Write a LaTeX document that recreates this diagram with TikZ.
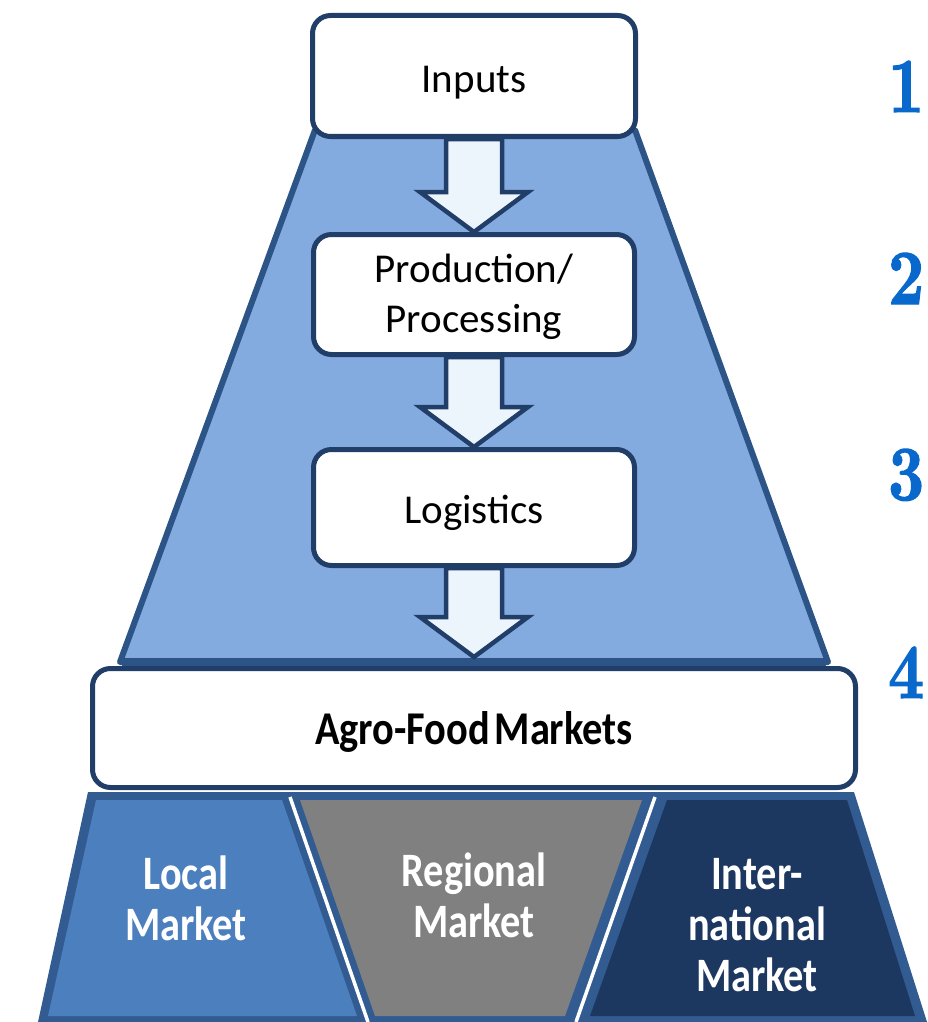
\documentclass[tikz,border=0pt]{standalone}
\usepackage{fontspec}
\setmainfont{Carlito}
\newfontfamily\labelfont[FakeStretch=0.84]{Carlito}
\newfontfamily\barfont[FakeStretch=0.86]{Carlito}
\newfontfamily\numfont[FakeStretch=0.8,FakeBold=1.6]{lmroman10-bold.otf}
\usetikzlibrary{calc}

\definecolor{boxline}{RGB}{33,62,104}
\definecolor{funnelline}{RGB}{44,84,134}
\definecolor{funnelfill}{RGB}{132,171,223}
\definecolor{arrowfill}{RGB}{236,244,252}
\definecolor{bandcol}{RGB}{50,92,145}
\definecolor{localcol}{RGB}{76,127,190}
\definecolor{regionalcol}{RGB}{128,128,128}
\definecolor{intlcol}{RGB}{29,56,96}
\definecolor{numcol}{RGB}{8,104,204}

\pgfdeclarelayer{back}
\pgfsetlayers{back,main}

\newcommand\flowarrow[2]{%
  \draw[flowarrow] ($(#1)+(-28,0)$) -- ($(#2)+(-28,-40)$) -- ($(#2)+(-54,-40)$)
    -- (#2) -- ($(#2)+(54,-40)$) -- ($(#2)+(28,-40)$) -- ($(#1)+(28,0)$) -- cycle;}
% lower a text inside its node without changing the node's size
\newcommand\lowered[2]{\raisebox{-#1}[\height][\depth]{#2}}

\tikzset{
  stagebox/.style={draw=boxline, line width=5pt, fill=white, rounded corners=18pt,
    inner sep=0pt, align=center, font=\fontsize{41}{50}\selectfont},
  flowarrow/.style={draw=boxline, line width=4.5pt, fill=arrowfill, line join=miter},
  funnel/.style={draw=funnelline, line width=6pt, fill=funnelfill, line join=round},
  marketlabel/.style={text=white, align=center, inner sep=0pt,
    font=\labelfont\bfseries\fontsize{48}{51}\selectfont},
  stepnum/.style={text=numcol, anchor=base west, inner sep=0pt,
    font=\numfont\fontsize{78}{78}\selectfont},
}

\begin{document}
\begin{tikzpicture}[x=1pt,y=-1pt]
\useasboundingbox (0,0) rectangle (927,1022);
\clip (0,0) rectangle (927,1022);

% chain of stages
\node[stagebox, minimum width=323pt, minimum height=121pt] (inputs) at (474,76) {\lowered{7pt}{Inputs}};
\node[stagebox, minimum width=321pt, minimum height=120pt] (prod) at (474,294.5) {\lowered{2pt}{Production/}\\\lowered{2pt}{Processing}};
\node[stagebox, minimum width=321pt, minimum height=116pt] (logi) at (474,507.5) {\lowered{5pt}{Logistics}};
\node[stagebox, minimum width=763pt, minimum height=119pt,
      font=\barfont\bfseries\fontsize{47}{50}\selectfont] (markets) at (474,728)
      {\lowered{4pt}{Agro-Food\hspace{0.1em}Markets}};
\coordinate (a3) at (474,657);

% page ground, funnel behind the chain, and the block arrows between stages
\begin{pgfonlayer}{back}
  \fill[white] (0,0) rectangle (927,1022);
  \draw[funnel] (315,130) -- (635,130) -- (828,662) -- (120,662) -- cycle;
  \draw[funnelline, line width=9pt] (122,662) -- (826,662);
  \flowarrow{inputs.south}{prod.north}
  \flowarrow{prod.south}{logi.north}
  \flowarrow{logi.south}{a3}
\end{pgfonlayer}

% market segments at the base
\fill[bandcol] (88,792) -- (854,792) -- (927,1022) -- (38,1022) -- cycle;
\fill[localcol] (96,800) -- (282,800) -- (357,1016) -- (48,1016) -- cycle;
\fill[regionalcol] (300,800) -- (642,800) -- (565,1016) -- (375,1016) -- cycle;
\fill[intlcol] (667,800) -- (847,800) -- (915,1016) -- (590,1016) -- cycle;
\draw[white, line width=3.5pt] (290,797) -- (368,1022);
\draw[white, line width=3.5pt] (655,797) -- (576,1022);

\node[marketlabel] (local) at (186,898) {Local\\Market};
\node[marketlabel] (regional) at (474,895) {Regional\\Market};
\node[marketlabel] (intl) at (757,925) {Inter-\\national\\Market};

% step numbers along the right edge
\node[stepnum] (n1) at (888,112) {1.};
\node[stepnum] (n2) at (888,304) {2.};
\node[stepnum] (n3) at (888,500) {3.};
\node[stepnum] (n4) at (888,698) {4.};
\end{tikzpicture}
\end{document}
